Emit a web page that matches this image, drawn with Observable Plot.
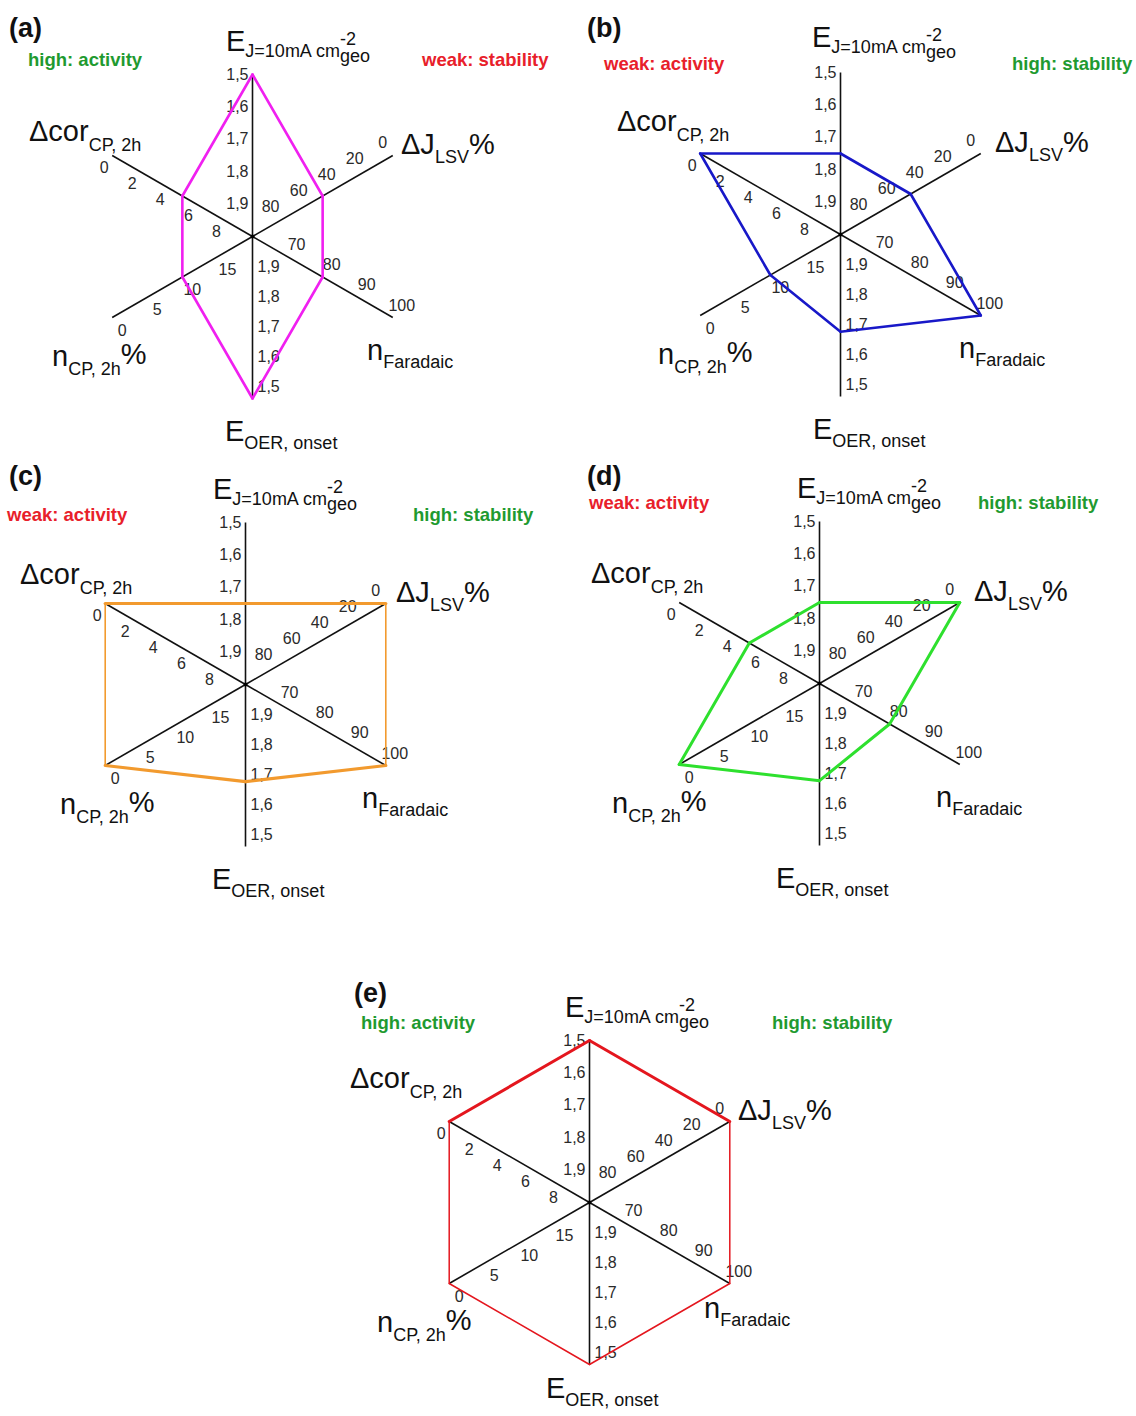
<!DOCTYPE html>
<html>
<head>
<meta charset="utf-8">
<script src="https://cdn.jsdelivr.net/npm/d3@7"></script>
<script src="https://cdn.jsdelivr.net/npm/@observablehq/plot@0.6"></script>
<style>
  body { margin: 0; background: #fff; }
  #page { position: relative; width: 1136px; height: 1416px; overflow: hidden; background: #fff;
          font-family: "Liberation Sans", Arial, sans-serif; }
  .panel { position: absolute; }
  .tag { position: absolute; font-weight: bold; font-size: 27px; color: #111; line-height: 32px; }
  .note { position: absolute; font-weight: bold; font-size: 18.5px; white-space: nowrap; line-height: 22px; }
</style>
</head>
<body>
<div id="page"></div>
<script>
// ---------------- data ----------------
const axisKeys    = ["EJ", "dJ", "nF", "EOER", "nCP", "dcor"];
const axisAngles  = [90, 30, -30, -90, -150, 150];      // direction of each spoke (deg)
const axisCenter  = [2.0, 100, 60, 2.0, 20, 10];        // value at the hub
const axisOuter   = [1.5, 0, 100, 1.5, 0, 0];           // value at the rim

const tickEJ   = [1.5, 1.6, 1.7, 1.8, 1.9];
const tickDJ   = [0, 20, 40, 60, 80];
const tickNF   = [70, 80, 90, 100];
const tickEOER = [1.5, 1.6, 1.7, 1.8, 1.9];
const tickNCP  = [0, 5, 10, 15];
const tickDcor = [0, 2, 4, 6, 8];

const panelTags = ["(a)", "(b)", "(c)", "(d)", "(e)"];
const valEJ   = [1.5, 1.75, 1.75, 1.75, 1.5];
const valDJ   = [50, 50, 0, 0, 0];
const valNF   = [80, 100, 100, 80, 100];
const valEOER = [1.5, 1.7, 1.7, 1.7, 1.5];
const valNCP  = [10, 10, 0, 0, 0];
const valDcor = [5, 0, 0, 5, 0];
const activityText  = ["high: activity", "weak: activity", "weak: activity", "weak: activity", "high: activity"];
const stabilityText = ["weak: stability", "high: stability", "high: stability", "high: stability", "high: stability"];

// ---------------- layout & style ----------------
const R = 162;                  // spoke length in px
const W = 560, H = 440, CX = 270, CY = 225;
const centers = [[252, 236], [840, 234], [245, 684], [819, 683], [589, 1202]];
const tagPos = [[9, 12], [587, 12], [9, 460], [587, 460], [354, 977]];
const actPos = [[28, 49], [604, 53], [7, 504], [589, 492], [361, 1012]];
const stabPos = [[422, 49], [1012, 53], [413, 504], [978, 492], [772, 1012]];
const GREEN = "#1f9a30", RED = "#e8202a";
const polyColor = ["#f020f0", "#1818c8", "#f29a2e", "#2ee02e", "#e4161e"];
const polyWidth = [            // edges: EJ-dJ, dJ-nF, nF-EOER, EOER-nCP, nCP-dcor, dcor-EJ
  [2.6, 2.6, 2.6, 2.6, 2.6, 2.6],
  [2.6, 2.6, 2.6, 2.6, 2.6, 2.6],
  [3.2, 1.6, 3.2, 3.2, 1.6, 3.2],
  [3, 3, 3, 3, 3, 3],
  [3, 1.5, 1.5, 1.5, 1.5, 3]
];
const tickStyle = [
  {textAnchor: "end", dx: -4, dy: 0},
  {textAnchor: "middle", dx: -10, dy: -13},
  {textAnchor: "middle", dx: 9, dy: -12},
  {textAnchor: "start", dx: 5, dy: 0},
  {textAnchor: "middle", dx: 10, dy: 13},
  {textAnchor: "middle", dx: -8, dy: 12}
];
const tickRadius = [1, 1, 1, 0.93, 1, 1];   // label placement along each spoke
// axis title pieces: text, font size, baseline shift, extra dx
const titles = [
  {x: -26, y: -185, parts: [["E", 29, 0], ["J=10mA cm", 18, 6], ["-2", 18, -6], ["geo", 18, 11, -16]]},
  {x: 149, y: -82, parts: [["ΔJ", 29, 0], ["LSV", 18, 9], ["%", 29, 0]]},
  {x: 115, y: 124, parts: [["n", 29, 0], ["Faradaic", 18, 8]]},
  {x: -27, y: 205, parts: [["E", 29, 0], ["OER, onset", 18, 8]]},
  {x: -200, y: 130, parts: [["n", 29, 0], ["CP, 2h", 18, 9], ["%", 29, -2]]},
  {x: -223, y: -95, parts: [["Δcor", 29, 0], ["CP, 2h", 18, 10]]}
];
// per-panel nudges [dx, dy] of the titles, order as axisKeys
const titleShift = [
  [[0, 0], [0, 0], [0, 0], [0, 0], [0, 0], [0, 0]],
  [[-2, -2], [6, 0], [4, 0], [0, 0], [18, 0], [0, -8]],
  [[-6, 0], [2, 0], [2, 0], [-6, 0], [15, 0], [-2, -5]],
  [[4, 0], [6, 0], [2, 0], [-16, 0], [-7, 0], [-5, -5]],
  [[2, 0], [0, 0], [0, -8], [-16, -9], [-12, 0], [-16, -19]]
];

// ---------------- build ----------------
const allTicks = [tickEJ, tickDJ, tickNF, tickEOER, tickNCP, tickDcor];
const allVals = [valEJ, valDJ, valNF, valEOER, valNCP, valDcor];
const axes = axisKeys.map((k, i) => ({
  key: k,
  angle: axisAngles[i] * Math.PI / 180,
  r: d3.scaleLinear().domain([axisCenter[i], axisOuter[i]]).range([0, 1])
}));
const px = (i, v, f = 1) => f * axes[i].r(v) * Math.cos(axes[i].angle);
const py = (i, v, f = 1) => f * axes[i].r(v) * Math.sin(axes[i].angle);
const fmt = v => Number.isInteger(v) ? String(v) : v.toFixed(1).replace(".", ",");

const page = document.getElementById("page");

panelTags.forEach((tag, p) => {
  const spokes = axes.map((a, i) => ({i, x1: 0, y1: 0, x2: px(i, axisOuter[i]), y2: py(i, axisOuter[i])}));
  const verts = axes.map((a, i) => ({x: px(i, allVals[i][p]), y: py(i, allVals[i][p])}));
  const edges = verts.map((v, i) => {
    const w = verts[(i + 1) % verts.length];
    return {x1: v.x, y1: v.y, x2: w.x, y2: w.y, w: polyWidth[p][i]};
  });

  const tickMarks = allTicks.map((tk, i) =>
    Plot.text(tk, {
      x: v => px(i, v, tickRadius[i]), y: v => py(i, v, tickRadius[i]), text: fmt,
      fontSize: 16, fill: "#2a2a2a", ...tickStyle[i]
    })
  );

  const chart = Plot.plot({
    width: W, height: H, margin: 0,
    x: {domain: [-CX / R, (W - CX) / R], range: [0, W], axis: null},
    y: {domain: [-(H - CY) / R, CY / R], range: [H, 0], axis: null},
    style: {fontFamily: '"Liberation Sans", Arial, sans-serif', background: "transparent", overflow: "visible"},
    marks: [
      Plot.link(spokes, {x1: "x1", y1: "y1", x2: "x2", y2: "y2", stroke: "#111", strokeWidth: 1.6}),
      ...tickMarks,
      Plot.link(edges, {x1: "x1", y1: "y1", x2: "x2", y2: "y2", stroke: polyColor[p],
                        strokeWidth: "w", strokeLinecap: "round", strokeLinejoin: "round"}),
      Plot.dot([0], {x: () => 0, y: () => 0, r: 2, fill: "#000"})
    ]
  });

  // axis titles with sub/superscripts
  const sx = chart.scale("x"), sy = chart.scale("y");
  const ox = sx.apply(0), oy = sy.apply(0);
  const svg = d3.select(chart);
  titles.forEach((t, i) => {
    const [sdx, sdy] = titleShift[p][i];
    const text = svg.append("text")
      .attr("x", ox + t.x + sdx).attr("y", oy + t.y + sdy)
      .attr("fill", "#111")
      .attr("text-anchor", "start")
      .style("font-family", '"Liberation Sans", Arial, sans-serif');
    let prev = 0;
    t.parts.forEach(([s, size, shift, dx]) => {
      const ts = text.append("tspan").attr("font-size", size).attr("dy", shift - prev).text(s);
      if (dx) ts.attr("dx", dx);
      prev = shift;
    });
  });

  const holder = document.createElement("div");
  holder.className = "panel";
  holder.style.left = (centers[p][0] - CX) + "px";
  holder.style.top = (centers[p][1] - CY) + "px";
  holder.appendChild(chart);
  page.appendChild(holder);

  const tg = document.createElement("div");
  tg.className = "tag"; tg.textContent = tag;
  tg.style.left = tagPos[p][0] + "px"; tg.style.top = tagPos[p][1] + "px";
  page.appendChild(tg);

  const act = document.createElement("div");
  act.className = "note"; act.textContent = activityText[p];
  act.style.color = activityText[p].startsWith("high") ? GREEN : RED;
  act.style.left = actPos[p][0] + "px"; act.style.top = actPos[p][1] + "px";
  page.appendChild(act);

  const stb = document.createElement("div");
  stb.className = "note"; stb.textContent = stabilityText[p];
  stb.style.color = stabilityText[p].startsWith("high") ? GREEN : RED;
  stb.style.left = stabPos[p][0] + "px"; stb.style.top = stabPos[p][1] + "px";
  page.appendChild(stb);
});
</script>
</body>
</html>
